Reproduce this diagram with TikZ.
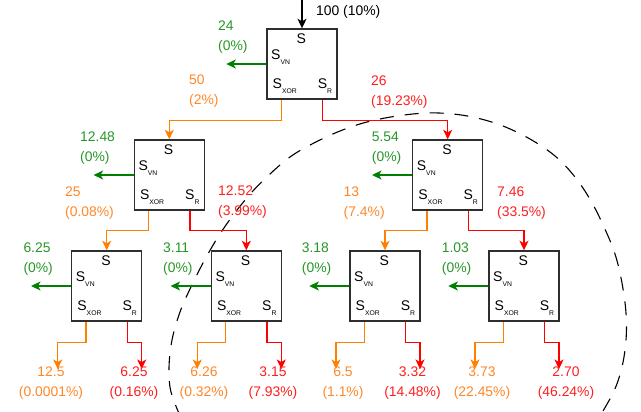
\documentclass[tikz,border=0pt]{standalone}
\usepackage{fontspec}
\setmainfont{Liberation Sans}
\usetikzlibrary{arrows.meta,calc}
\definecolor{cgreen}{RGB}{0,128,0}
\definecolor{corange}{RGB}{255,128,0}
\definecolor{cred}{RGB}{255,0,0}
\definecolor{tgreen}{RGB}{40,150,40}
\definecolor{torange}{RGB}{255,135,40}
\definecolor{tred}{RGB}{255,30,30}
\newcommand\Ssub[1]{S\raisebox{-5pt}{\fontsize{6.8}{7}\selectfont #1}}
\newcommand\mkblock[3]{%
  \node[blk] (#1) at (#2,#3) {};
  \node[stxt, anchor=base] (#1-s) at ($(#1)+(-0.7,-20.6)$) {S};
  \node[stxt, anchor=base west] (#1-vn) at ($(#1)+(-31,-4.4)$) {\Ssub{VN}};
  \node[stxt, anchor=base west] (#1-xor) at ($(#1)+(-29.5,24.2)$) {\Ssub{XOR}};
  \node[stxt, anchor=base west] (#1-r) at ($(#1)+(15.7,24.2)$) {\Ssub{R}};
}
\begin{document}
\begin{tikzpicture}[x=1pt,y=-1pt,
  blk/.style={draw=black!82, line width=1.4pt, minimum width=70pt, minimum height=70pt, inner sep=0pt, fill=white},
  stxt/.style={inner sep=0pt, font=\fontsize{14}{16}\selectfont},
  lbl/.style={inner sep=0pt, align=left, anchor=west, font=\fontsize{13.9}{20}\selectfont},
  leaf/.style={inner sep=0pt, align=center, font=\fontsize{13.9}{20}\selectfont},
  conn/.style={line width=1.35pt, -{Stealth[length=9.5pt,width=9pt,inset=2.5pt]}},
  ring/.style={draw=black, line width=1.1pt, dash pattern=on 14pt off 11pt}
]
\useasboundingbox (0,0) rectangle (641,412);

% dashed ring
\draw[ring] plot[smooth, tension=0.6] coordinates {(181,418) (171,392) (169,368) (172,340) (180,312) (190,289) (203,263) (218,237) (234,214) (252,192) (270,174) (290,157) (312,144) (340,131) (367,122) (397,116) (427,113) (453,114) (477,118) (503,126) (530,139) (555,156) (575,177) (591,201) (604,227) (615,254) (622,283) (626,313) (626,340) (622,367) (614,391) (600,416)};

% blocks
\mkblock{T}{302}{64}
\mkblock{ML}{169.3}{175}
\mkblock{MR}{447.7}{175}
\mkblock{B1}{106.7}{286}
\mkblock{B2}{246.3}{286}
\mkblock{B3}{385}{286}
\mkblock{B4}{524}{286}

% input
\coordinate (in) at (302,0);
\draw[conn, black] (in) -- (T.north);
\node[lbl, text=black] (inlbl) at (316,12) {100 (10\%)};

% tree connectors
\draw[conn, corange] ($(T.south)+(-20.7,0)$) -- ++(0,20.5) -| (ML.north);
\draw[conn, cred] ($(T.south)+(20.7,0)$) -- ++(0,20.5) -| (MR.north);
\draw[conn, corange] ($(ML.south)+(-20.5,0)$) -- ++(0,20) -| (B1.north);
\draw[conn, cred] ($(ML.south)+(20.7,0)$) -- ++(0,20) -| (B2.north);
\draw[conn, corange] ($(MR.south)+(-20.7,0)$) -- ++(0,20) -| (B3.north);
\draw[conn, cred] ($(MR.south)+(20.7,0)$) -- ++(0,20) -| (B4.north);

% green outputs
\foreach \b in {T,ML,MR,B1,B2,B3,B4}{
  \draw[conn, cgreen] (\b.west) -- ++(-40,0);
}

% leaf outputs
\foreach \b in {B1,B2,B3,B4}{
  \coordinate (\b-o) at ($(\b)+(-49,83)$);
  \coordinate (\b-r) at ($(\b)+(35,83)$);
  \draw[conn, corange] ($(\b.south)+(-20.7,0)$) -- ++(0,21) -| (\b-o);
  \draw[conn, cred] ($(\b.south)+(20.7,0)$) -- ++(0,21) -| (\b-r);
}

% labels
\node[lbl, text=tgreen] (Tg) at (218,37) {24\\(0\%)};
\node[lbl, text=torange] (To) at (189,91.5) {50\\(2\%)};
\node[lbl, text=tred] (Tr) at (371,92) {26\\(19.23\%)};
\node[lbl, text=tgreen] (MLg) at (80,148.2) {12.48\\(0\%)};
\node[lbl, text=torange] (MLo) at (65,203.5) {25\\(0.08\%)};
\node[lbl, text=tred] (MLr) at (218,202.5) {12.52\\(3.99\%)};
\node[lbl, text=tgreen] (MRg) at (371.7,148.2) {5.54\\(0\%)};
\node[lbl, text=torange] (MRo) at (343.5,203.5) {13\\(7.4\%)};
\node[lbl, text=tred] (MRr) at (497,203.5) {7.46\\(33.5\%)};
\node[lbl, text=tgreen] (B1g) at (23.3,258.8) {6.25\\(0\%)};
\node[lbl, text=tgreen] (B2g) at (163,258.8) {3.11\\(0\%)};
\node[lbl, text=tgreen] (B3g) at (301.7,258.8) {3.18\\(0\%)};
\node[lbl, text=tgreen] (B4g) at (441.7,258.8) {1.03\\(0\%)};

\node[leaf, text=torange] (B1ol) at (51,383.5) {12.5\\(0.0001\%)};
\node[leaf, text=tred] (B1rl) at (134,383.5) {6.25\\(0.16\%)};
\node[leaf, text=torange] (B2ol) at (204,383.5) {6.26\\(0.32\%)};
\node[leaf, text=tred] (B2rl) at (273,383.5) {3.15\\(7.93\%)};
\node[leaf, text=torange] (B3ol) at (343,383.5) {6.5\\(1.1\%)};
\node[leaf, text=tred] (B3rl) at (412.5,383.5) {3.32\\(14.48\%)};
\node[leaf, text=torange] (B4ol) at (482,383.5) {3.73\\(22.45\%)};
\node[leaf, text=tred] (B4rl) at (566,383.5) {2.70\\(46.24\%)};
\end{tikzpicture}
\end{document}
